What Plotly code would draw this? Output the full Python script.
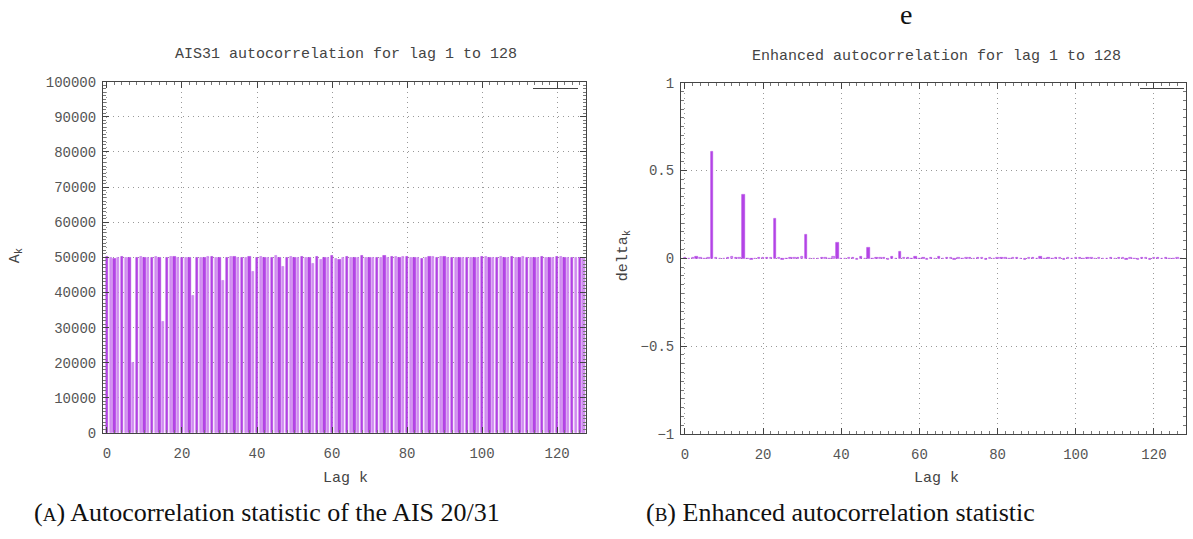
import plotly.graph_objects as go

lags = list(range(128))

ais31_values = [
    50200, 49800, 49700, 49800, 50100, 49900, 50000, 19900, 50000, 50200,
    50000, 49800, 49900, 50100, 50000, 31800, 49800, 50300, 50100, 50000,
    49900, 50000, 50000, 39000, 50000, 50000, 50000, 50200, 50100, 49900,
    49800, 43400, 50000, 50300, 50100, 50000, 49900, 49800, 50100, 45900,
    50000, 50300, 49800, 50000, 50000, 50400, 49800, 47200, 49900, 50200,
    49900, 49900, 50300, 49800, 50000, 48300, 50100, 49400, 50000, 49800,
    50500, 49700, 49400, 49900, 50100, 49900, 50000, 49900, 50500, 49800,
    50000, 49900, 50000, 49900, 50500, 49900, 50100, 50100, 49800, 50100,
    50300, 49900, 50000, 50000, 49600, 50000, 50100, 50100, 49900, 50200,
    50200, 49800, 50000, 50000, 50000, 50000, 49800, 50000, 50000, 49900,
    50100, 50100, 49800, 50000, 50000, 50300, 50000, 50000, 50100, 49900,
    49900, 50200, 50000, 50000, 50000, 49900, 50100, 49900, 49900, 50000,
    50100, 50100, 50000, 49900, 50000, 49800, 50000, 49700,
]

enhanced_values = [
    0.004, -0.004, 0.005, 0.007, 0.004, -0.002, 0.002, 0.605, 0.005, -0.004,
    -0.004, 0.002, 0.007, 0.002, 0.002, 0.365, -0.002, -0.007, -0.004, 0.005,
    0.004, 0.002, 0.004, 0.223, 0.002, -0.005, -0.004, 0.004, 0.005, 0.002,
    0.007, 0.137, -0.004, -0.004, -0.002, 0.002, 0.005, -0.004, 0.007, 0.090,
    -0.004, -0.002, 0.004, 0.002, -0.007, 0.007, -0.004, 0.058, -0.002, 0.005,
    0.004, 0.004, -0.007, 0.009, -0.004, 0.035, 0.004, 0.004, -0.004, 0.007,
    -0.002, 0.005, -0.010, 0.004, -0.004, 0.007, -0.002, 0.004, 0.002, -0.008,
    0.002, -0.004, 0.004, 0.002, -0.002, 0.004, 0.005, -0.007, 0.004, -0.002,
    0.004, 0.002, 0.002, -0.002, 0.004, 0.005, -0.004, -0.005, 0.004, 0.002,
    -0.004, 0.007, -0.004, 0.002, -0.004, 0.005, 0.002, -0.005, 0.004, -0.002,
    0.004, 0.002, -0.004, 0.002, 0.004, -0.002, 0.002, -0.004, -0.002, 0.004,
    -0.002, 0.002, 0.004, -0.007, 0.002, -0.004, -0.008, 0.004, 0.002, -0.005,
    0.004, 0.004, -0.002, 0.004, -0.004, -0.004, 0.004, -0.002,
]

left_yticks = [0, 10000, 20000, 30000, 40000, 50000, 60000, 70000, 80000, 90000, 100000]
left_yticklabels = ["0", "10000", "20000", "30000", "40000", "50000",
                    "60000", "70000", "80000", "90000", "100000"]
right_yticks = [-1, -0.5, 0, 0.5, 1]
right_yticklabels = ["\u22121", "\u22120.5", "0", "0.5", "1"]
xticks = [0, 20, 40, 60, 80, 100, 120]
xticklabels = ["0", "20", "40", "60", "80", "100", "120"]

DARK = "#b444e6"
LIGHT = "#d392f2"
left_colors = [DARK if i % 2 == 0 else LIGHT for i in lags]
left_lines = ["#a838dc" if i % 2 == 0 else "#c56ced" for i in lags]
right_colors = [LIGHT if i % 2 == 0 else DARK for i in lags]
right_lines = ["#b444e6" for i in lags]

MONO = "Liberation Mono, DejaVu Sans Mono, monospace"
SERIF = "Liberation Serif, DejaVu Serif, serif"
TICKCOL = "#555555"
GRIDDASH = "1px,4px"

fig = go.Figure()
fig.add_trace(go.Bar(x=lags, y=ais31_values, width=0.6,
                     marker=dict(color=left_colors, line=dict(color=left_lines, width=0.5)),
                     xaxis="x", yaxis="y", showlegend=False))
fig.add_trace(go.Bar(x=lags, y=enhanced_values, width=0.6,
                     marker=dict(color=right_colors, line=dict(color=right_lines, width=0.6)),
                     xaxis="x2", yaxis="y2", showlegend=False))

def xax(domain, anchor, rng):
    return dict(domain=domain, anchor=anchor, range=rng, tickvals=xticks, ticktext=xticklabels,
                showgrid=True, gridcolor="#999999", griddash=GRIDDASH, gridwidth=1,
                showline=True, linecolor="#444444", linewidth=1, mirror="allticks",
                ticks="inside", ticklen=6, tickcolor="#444444", zeroline=False,
                ticklabelstandoff=7,
                minor=dict(ticks="inside", ticklen=3, dtick=2, tickcolor="#777777", showgrid=False),
                tickfont=dict(family=MONO, size=14, color=TICKCOL))

def yax(domain, anchor, rng, ticks, labels, dt):
    return dict(domain=domain, anchor=anchor, range=rng, tickvals=ticks, ticktext=labels,
                showgrid=True, gridcolor="#999999", griddash=GRIDDASH, gridwidth=1,
                showline=True, linecolor="#444444", linewidth=1, mirror="allticks",
                ticks="inside", ticklen=6, tickcolor="#444444", zeroline=False,
                ticklabelstandoff=3,
                minor=dict(ticks="inside", ticklen=3, dtick=dt, tickcolor="#777777", showgrid=False),
                tickfont=dict(family=MONO, size=14, color=TICKCOL))

W, H = 1193, 539
fig.update_layout(
    width=W, height=H,
    margin=dict(l=0, r=0, t=0, b=0),
    paper_bgcolor="white", plot_bgcolor="white",
    bargap=0,
    xaxis=xax([103 / W, 586 / W], "y", [-1.05, 127.7]),
    yaxis=yax([1 - 439 / H, 1 - 77 / H], "x", [0, 100000], left_yticks, left_yticklabels, 1000),
    xaxis2=xax([681 / W, 1186 / W], "y2", [-1.0, 128.2]),
    yaxis2=yax([1 - 440 / H, 1 - 78 / H], "x2", [-1, 1], right_yticks, right_yticklabels, 0.05),
)

def ann(x, y, text, size, family, color="#444444", angle=0):
    fig.add_annotation(x=x / W, y=1 - y / H, xref="paper", yref="paper", text=text,
                       showarrow=False, textangle=angle,
                       font=dict(family=family, size=size, color=color),
                       xanchor="center", yanchor="middle")

ann(346, 49, "AIS31 autocorrelation for lag 1 to 128", 15, MONO)
ann(936, 51, "Enhanced autocorrelation for lag 1 to 128", 15, MONO)
ann(345, 486, "Lag k", 15, MONO)
ann(936, 486, "Lag k", 15, MONO)
ann(16, 257, "A<sub>k</sub>", 15, MONO, angle=-90)
ann(624, 257, "delta<sub>k</sub>", 15, MONO, angle=-90)
ann(267, 521, "(<span style='font-size:19px'>A</span>) Autocorrelation statistic of the AIS 20/31", 26, SERIF, "#111111")
ann(840, 521, "(<span style='font-size:19px'>B</span>) Enhanced autocorrelation statistic", 26, SERIF, "#111111")
ann(906, 8, "e", 28, SERIF, "#111111")

# legend key samples (gnuplot key with empty title)
fig.add_shape(type="line", xref="paper", yref="paper", x0=533 / W, x1=578 / W,
              y0=1 - 84 / H, y1=1 - 84 / H, line=dict(color="#444444", width=1))
fig.add_shape(type="line", xref="paper", yref="paper", x0=1140 / W, x1=1184 / W,
              y0=1 - 84 / H, y1=1 - 84 / H, line=dict(color="#444444", width=1))

fig.write_html("out.html")
